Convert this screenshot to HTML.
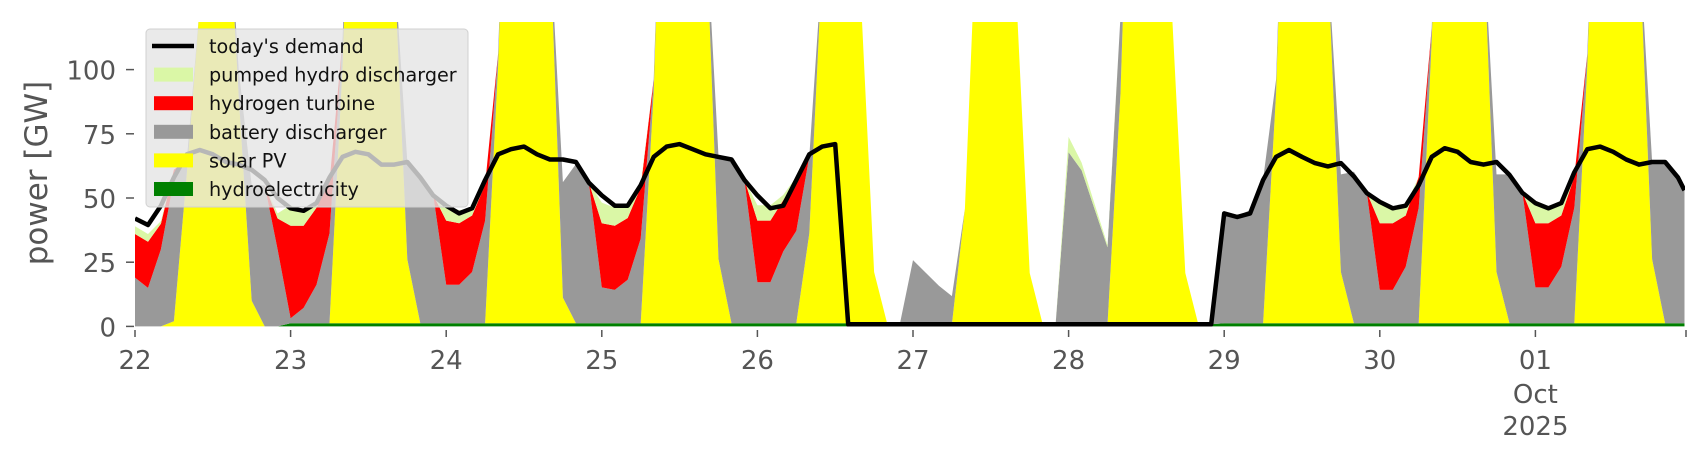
<!DOCTYPE html>
<html><head><meta charset="utf-8">
<style>
html,body{margin:0;padding:0;background:#fff;}
svg{display:block;font-family:"DejaVu Sans","Liberation Sans",sans-serif;}
</style></head>
<body>
<svg id="chart" width="1706" height="460" viewBox="0 0 1706 460" xmlns="http://www.w3.org/2000/svg">
  <defs><clipPath id="plotclip"><rect x="135" y="22" width="1550" height="305"/></clipPath></defs>
  <g id="areas" clip-path="url(#plotclip)"></g>
  <g id="demandg" clip-path="url(#plotclip)"></g>
  <g id="yaxis"></g>
  <g id="xaxis"></g>
  <text x="0" y="0" transform="translate(47,173) rotate(-90)" text-anchor="middle" font-size="31" fill="#555">power [GW]</text>
  <g id="legend"></g>
</svg>
<script>
// hours from 22 Sep 00:00, 2-hourly, last point at 23:00 on Oct 1
const dayLabels = ["22","23","24","25","26","27","28","29","30","01"];
const yTicks = [0,25,50,75,100];
const demand = [
 42,39.5,47,58,67,68.7,67,64,63,61,57,50,
 46,45,48,58,66,68,67,63,63,64,58,51,
 47,44,46,57,67,69,70,67,65,65,64,56,
 51,47,47,55,66,70,71,69,67,66,65,57,
 51,46,47,57,67,70,71,0.8,0.8,0.8,0.8,0.8,
 0.8,0.8,0.8,0.8,0.8,0.8,0.8,0.8,0.8,0.8,0.8,0.8,
 0.8,0.8,0.8,0.8,0.8,0.8,0.8,0.8,0.8,0.8,0.8,0.8,
 44,42.6,44,57,66,68.7,66,63.6,62.3,63.6,58.4,51.9,
 48.5,46,47,55,66,69.4,68,64,63,64,59,52,
 48,46,48,60,69,70,68,65,63,64,64,58,53];
const hydro = [
 0,0,0,0,0,0,0,0,0,0,0,0,
 1.2,1.2,1.2,1.2,1.2,1.2,1.2,1.2,1.2,1.2,1.2,1.2,
 1.2,1.2,1.2,1.2,1.2,1.2,1.2,1.2,1.2,1.2,1.2,1.2,
 1.2,1.2,1.2,1.2,1.2,1.2,1.2,1.2,1.2,1.2,1.2,1.2,
 1.2,1.2,1.2,1.2,1.2,1.2,1.2,1.2,1.2,1.2,1.2,1.2,
 0.8,0.8,0.8,0.8,0.8,0.8,0.8,0.8,0.8,0.8,0.8,0.8,
 0.8,0.8,0.8,0.8,0.8,0.8,0.8,0.8,0.8,0.8,0.8,0.8,
 1.2,1.2,1.2,1.2,1.2,1.2,1.2,1.2,1.2,1.2,1.2,1.2,
 1.2,1.2,1.2,1.2,1.2,1.2,1.2,1.2,1.2,1.2,1.2,1.2,
 1.2,1.2,1.2,1.2,1.2,1.2,1.2,1.2,1.2,1.2,1.2,1.2,1.2];
const solar = [
 0,0,0,2,60,125,250,180,90,10,0,0,
 0,0,0,0,100,250,280,250,140,25,0,0,
 0,0,0,0,100,250,280,250,150,10,0,0,
 0,0,0,0,90,250,280,250,160,25,0,0,
 0,0,0,0,35,140,250,250,125,20,0,0,
 0,0,0,0,45,170,250,250,125,20,0,0,
 0,0,0,0,90,250,280,250,119,20,0,0,
 0,0,0,0,90,250,280,250,140,20,0,0,
 0,0,0,0,110,250,280,250,150,20,0,0,
 0,0,0,0,100,250,280,250,150,25,0,0,0];
const battery = [
 19,15,30,55,5,0,0,0,10,45,55,30,
 2,6,15,35,10,0,0,0,0,38,57,50,
 15,15,20,40,5,0,0,0,0,45,62,55,
 14,13,17,33,5,0,0,0,0,40,64,56,
 16,16,28,36,30,0,0,0,0,0,0,0,
 25,20,15,11,0,0,0,0,0,0,0,0,
 67,60,45,30,30,0,0,0,0,0,0,0,
 43,42,44,56,5,0,0,0,0,38,59,51,
 13,13,22,45,5,0,0,0,0,38,58,51,
 14,14,22,45,5,0,0,0,0,38,63,57,52];
const hydrogen = [
 17,18,10,4,0,0,0,0,0,0,0,12,
 36,32,30,20,0,0,0,0,0,0,0,0,
 25,24,22,14,0,0,0,0,0,0,0,0,
 25,25,24,20,0,0,0,0,0,0,0,0,
 24,24,20,20,0,0,0,0,0,0,0,0,
 0,0,0,0,0,0,0,0,0,0,0,0,
 0,0,0,0,0,0,0,0,0,0,0,0,
 0,0,0,0,0,0,0,0,0,0,0,0,
 26,26,20,12,0,0,0,0,0,0,0,0,
 25,25,20,12,0,0,0,0,0,0,0,0,0];
const pumped = [
 3,3,1,0,0,0,0,0,0,0,0,2,
 8,6,2,0,0,0,0,0,0,0,0,0,
 6,5,3,0,0,0,0,0,0,0,0,0,
 8,7,5,1,0,0,0,0,0,0,0,0,
 6,6,2,1,0,0,0,0,0,0,0,0,
 0,0,0,0,0,0,0,0,0,0,0,0,
 6,3,2,1,0,0,0,0,0,0,0,0,
 0,0,0,0,0,0,0,0,0,0,0,0,
 9,6,4,0,0,0,0,0,0,0,0,0,
 8,6,4,0,0,0,0,0,0,0,0,0,0];

const NS='http://www.w3.org/2000/svg';
const X0=135, PXH=155.6/24, Y0=326.4, PXG=2.568;
function xs(h){return X0+h*PXH;}
function ys(v){return Y0-v*PXG;}
function hourAt(i){return i<120 ? 2*i : 239;}
const N=demand.length;

const series=[
 {vals:hydro,color:'#008000',name:'area-hydroelectricity'},
 {vals:solar,color:'#ffff00',name:'area-solar-pv'},
 {vals:battery,color:'#999999',name:'area-battery-discharger'},
 {vals:hydrogen,color:'#ff0000',name:'area-hydrogen-turbine'},
 {vals:pumped,color:'#daf7a6',name:'area-pumped-hydro'}
];
const areas=document.getElementById('areas');
let base=new Array(N).fill(0);
series.forEach(s=>{
  const top=base.map((b,i)=>b+s.vals[i]);
  let d='M'+xs(hourAt(0)).toFixed(1)+','+ys(top[0]).toFixed(1);
  for(let i=1;i<N;i++) d+='L'+xs(hourAt(i)).toFixed(1)+','+ys(top[i]).toFixed(1);
  for(let i=N-1;i>=0;i--) d+='L'+xs(hourAt(i)).toFixed(1)+','+ys(base[i]).toFixed(1);
  d+='Z';
  const p=document.createElementNS(NS,'path');
  p.setAttribute('d',d);p.setAttribute('fill',s.color);
  
  
  areas.appendChild(p);
  base=top;
});

const dg=document.getElementById('demandg');
let dd='';
for(let i=0;i<N;i++) dd+=(i?'L':'M')+xs(hourAt(i)).toFixed(1)+','+ys(demand[i]).toFixed(1);
const dl=document.createElementNS(NS,'path');
dl.setAttribute('d',dd);dl.setAttribute('fill','none');dl.setAttribute('stroke','#000');
dl.setAttribute('stroke-width','4.5');dl.setAttribute('stroke-linejoin','round');


dg.appendChild(dl);

const ya=document.getElementById('yaxis');
yTicks.forEach(v=>{
  const y=ys(v);
  const t=document.createElementNS(NS,'line');
  t.setAttribute('x1',126);t.setAttribute('x2',134);t.setAttribute('y1',y);t.setAttribute('y2',y);
  t.setAttribute('stroke','#555');t.setAttribute('stroke-width','1.5');
  
  
  ya.appendChild(t);
  const l=document.createElementNS(NS,'text');
  l.setAttribute('x',116);l.setAttribute('y',y+10);l.setAttribute('text-anchor','end');
  l.setAttribute('font-size','26');l.setAttribute('fill','#555');l.textContent=v;
  
  
  ya.appendChild(l);
});

const xa=document.getElementById('xaxis');
dayLabels.forEach((lab,i)=>{
  const x=xs(i*24);
  const t=document.createElementNS(NS,'line');
  t.setAttribute('x1',x);t.setAttribute('x2',x);t.setAttribute('y1',330);t.setAttribute('y2',337);
  t.setAttribute('stroke','#555');t.setAttribute('stroke-width','1.5');
  
  
  xa.appendChild(t);
  const l=document.createElementNS(NS,'text');
  l.setAttribute('x',x);l.setAttribute('y',369);l.setAttribute('text-anchor','middle');
  l.setAttribute('font-size','26');l.setAttribute('fill','#555');l.textContent=lab;
  
  
  xa.appendChild(l);
  if(lab==='01'){
    ['Oct','2025'].forEach((s,k)=>{
      const e=document.createElementNS(NS,'text');
      e.setAttribute('x',x);e.setAttribute('y',403+k*32);e.setAttribute('text-anchor','middle');
      e.setAttribute('font-size','26');e.setAttribute('fill','#555');e.textContent=s;
      
      
      xa.appendChild(e);
    });
  }
});
const endT=document.createElementNS(NS,'line');
endT.setAttribute('x1',1686);endT.setAttribute('x2',1686);endT.setAttribute('y1',330);endT.setAttribute('y2',337);
endT.setAttribute('stroke','#555');endT.setAttribute('stroke-width','1.5');


xa.appendChild(endT);

const lg=document.getElementById('legend');
const box=document.createElementNS(NS,'rect');
box.setAttribute('x',146);box.setAttribute('y',29);box.setAttribute('width',322);box.setAttribute('height',178);
box.setAttribute('rx',4);box.setAttribute('fill','#e5e5e5');box.setAttribute('fill-opacity','0.8');
box.setAttribute('stroke','#d0d0d0');


lg.appendChild(box);
const legItems=[
 ["today's demand",'line','#000'],
 ['pumped hydro discharger','rect','#daf7a6'],
 ['hydrogen turbine','rect','#ff0000'],
 ['battery discharger','rect','#999999'],
 ['solar PV','rect','#ffff00'],
 ['hydroelectricity','rect','#008000']];
legItems.forEach((it,k)=>{
  const cy=46+k*28.6;
  const g=document.createElementNS(NS,'g');
  
  
  let h;
  if(it[1]==='line'){
    h=document.createElementNS(NS,'line');
    h.setAttribute('x1',152);h.setAttribute('x2',194);h.setAttribute('y1',cy);h.setAttribute('y2',cy);
    h.setAttribute('stroke',it[2]);h.setAttribute('stroke-width','4.5');
  } else {
    h=document.createElementNS(NS,'rect');
    h.setAttribute('x',154);h.setAttribute('y',cy-7);h.setAttribute('width',39);h.setAttribute('height',14);
    h.setAttribute('fill',it[2]);
  }
  
  
  g.appendChild(h);
  const t=document.createElementNS(NS,'text');
  t.setAttribute('x',209);t.setAttribute('y',cy+7);t.setAttribute('font-size','19.2');t.setAttribute('fill','#111');
  t.textContent=it[0];
  
  
  g.appendChild(t);
  lg.appendChild(g);
});
</script>
</body></html>
